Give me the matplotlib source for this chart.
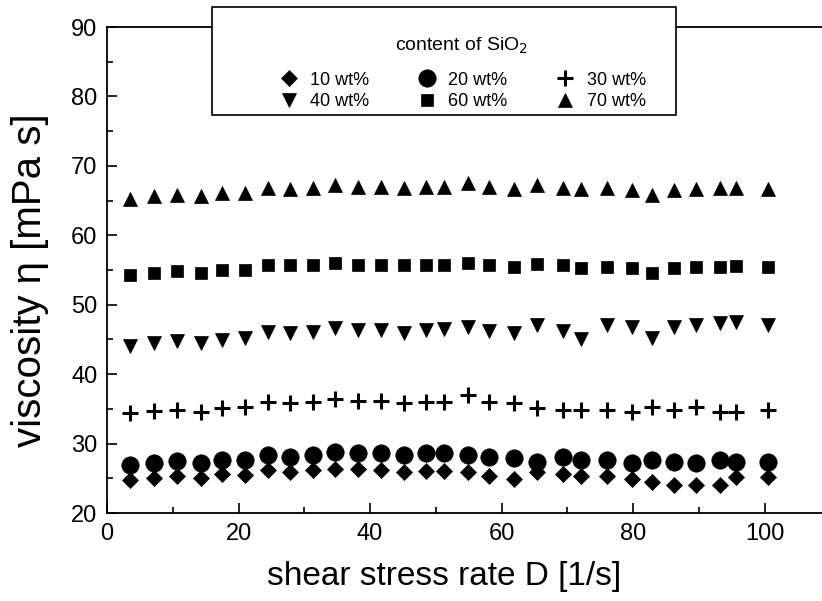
import matplotlib
matplotlib.use("Agg")
import matplotlib.pyplot as plt
from matplotlib.lines import Line2D
from matplotlib.patches import Rectangle
from matplotlib.ticker import MultipleLocator

plt.rcParams['font.family'] = ['Liberation Sans', 'DejaVu Sans']

# shear stress rate D [1/s]
shear_rate = [3.5, 7.1, 10.6, 14.3, 17.5, 21.0, 24.5, 27.8, 31.3, 34.7,
              38.1, 41.6, 45.1, 48.5, 51.2, 54.9, 58.1, 61.9, 65.3, 69.3,
              72.0, 76.0, 79.8, 82.8, 86.2, 89.5, 93.2, 95.7, 100.5]

visc_10 = [24.75, 25.1, 25.3, 25.1, 25.6, 25.5, 26.2, 25.95, 26.2, 26.4,
           26.3, 26.2, 25.95, 26.1, 26.0, 25.95, 25.3, 24.85, 25.95, 25.6,
           25.3, 25.3, 24.85, 24.5, 24.0, 24.0, 24.0, 25.2, 25.2]
visc_20 = [26.9, 27.25, 27.5, 27.15, 27.6, 27.6, 28.35, 28.1, 28.35, 28.8,
           28.6, 28.6, 28.35, 28.6, 28.6, 28.35, 28.1, 27.9, 27.4, 28.1,
           27.6, 27.6, 27.15, 27.6, 27.4, 27.15, 27.6, 27.4, 27.4]
visc_30 = [34.4, 34.7, 34.8, 34.6, 35.1, 35.2, 36.0, 35.8, 36.0, 36.4,
           36.2, 36.2, 35.9, 36.0, 36.0, 37.0, 36.0, 35.8, 35.1, 34.8,
           34.8, 34.8, 34.6, 35.3, 34.9, 35.3, 34.6, 34.6, 34.9]
visc_40 = [44.0, 44.5, 44.8, 44.45, 44.9, 45.15, 46.1, 45.9, 46.1, 46.6,
           46.35, 46.35, 45.97, 46.35, 46.45, 46.8, 46.25, 45.97, 47.1, 46.25,
           45.0, 47.1, 46.8, 45.15, 46.8, 47.1, 47.3, 47.55, 47.1]
visc_60 = [54.3, 54.6, 54.85, 54.6, 55.0, 55.0, 55.7, 55.7, 55.7, 56.0,
           55.7, 55.7, 55.7, 55.7, 55.7, 56.0, 55.7, 55.5, 55.85, 55.7,
           55.3, 55.5, 55.25, 54.6, 55.25, 55.5, 55.5, 55.55, 55.4]
visc_70 = [65.2, 65.7, 65.8, 65.7, 66.05, 66.05, 66.8, 66.7, 66.85, 67.2,
           67.0, 67.0, 66.85, 67.0, 67.0, 67.5, 66.9, 66.7, 67.2, 66.8,
           66.7, 66.8, 66.5, 65.8, 66.5, 66.7, 66.8, 66.8, 66.7]

labels = ['10 wt%', '20 wt%', '30 wt%', '40 wt%', '60 wt%', '70 wt%']
series = [visc_10, visc_20, visc_30, visc_40, visc_60, visc_70]
markers = ['D', 'o', '+', 'v', 's', '^']
sizes = [8, 12.5, 12, 10.5, 8, 10.5]

W, H = 822, 601
fig = plt.figure(figsize=(W / 100, H / 100), dpi=100)
ax = fig.add_axes([107 / W, 88 / H, (W - 107) / W, 486 / H])

handles = {}
for lab, ys, m, s in zip(labels, series, markers, sizes):
    kw = dict(linestyle='none', marker=m, markersize=s, color='black')
    kw['markeredgewidth'] = 2.2 if m == '+' else 0.5
    ax.plot(shear_rate, ys, **kw)
    handles[lab] = Line2D([], [], **kw)

ax.set_xlim(0, 108.7)
ax.set_ylim(20, 90)
ax.xaxis.set_major_locator(MultipleLocator(20))
ax.xaxis.set_minor_locator(MultipleLocator(10))
ax.yaxis.set_major_locator(MultipleLocator(10))
ax.yaxis.set_minor_locator(MultipleLocator(5))
ax.tick_params(which='both', direction='in', labelsize=17, width=1.2, pad=7)
ax.tick_params(which='major', length=7)
ax.tick_params(which='minor', length=4)
ax.spines['right'].set_visible(False)
for sp in ['left', 'bottom', 'top']:
    ax.spines[sp].set_linewidth(1.3)

ax.set_xlabel('shear stress rate D [1/s]', fontsize=24)
ax.set_ylabel('viscosity η [mPa s]', fontsize=29)
ax.xaxis.set_label_coords((444 - 107) / (W - 107), -(577 - 513) / 486,)
ax.xaxis.label.set_va('center')
ax.yaxis.set_label_coords(-(107 - 30) / (W - 107), (513 - 280) / 486)
ax.yaxis.label.set_va('center')

# legend frame
fig.patches.append(Rectangle((212 / W, 1 - 115 / H), (676 - 212) / W, 108 / H,
                             transform=fig.transFigure, facecolor='white',
                             edgecolor='black', linewidth=1.2, zorder=5))

order = ['10 wt%', '40 wt%', '20 wt%', '60 wt%', '30 wt%', '70 wt%']
leg = fig.legend([handles[k] for k in order], order, ncol=3,
                 title='content of SiO$_2$', title_fontsize=14, fontsize=13,
                 loc='upper center', bbox_to_anchor=(462 / W, 1 - 36 / H),
                 frameon=False, borderpad=0, borderaxespad=0,
                 handletextpad=0.57, columnspacing=2.6, labelspacing=0.27,
                 handlelength=1.2)
leg.set_zorder(6)
leg._legend_box.sep = 11

fig.savefig('out.png', dpi=100)
